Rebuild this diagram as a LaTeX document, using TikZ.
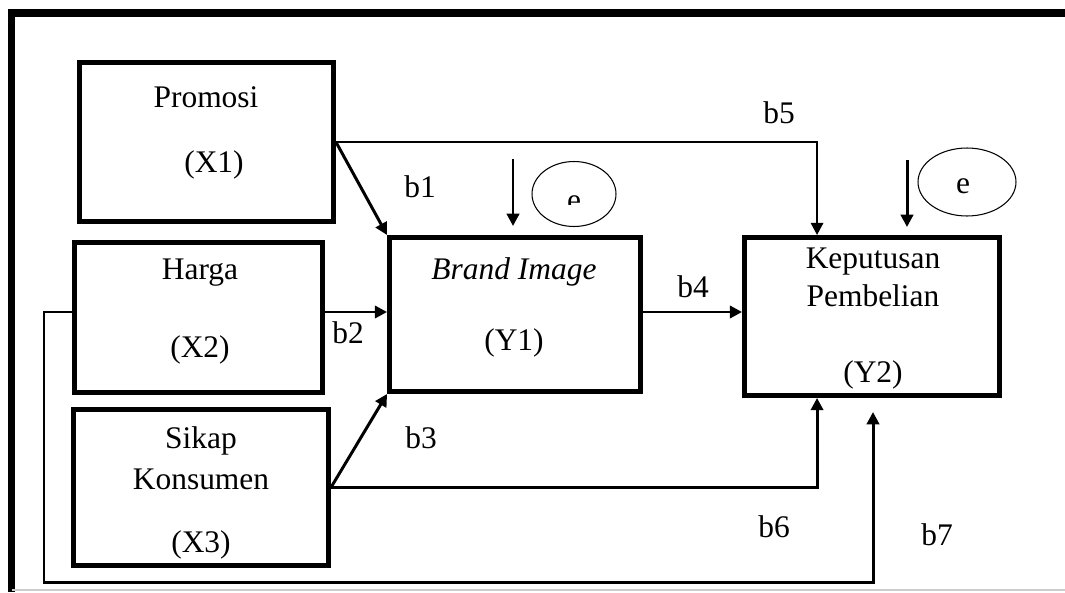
\documentclass[tikz,border=0pt]{standalone}
\usepackage{fontspec}
\setmainfont{Liberation Serif}
\usetikzlibrary{arrows.meta,shapes.geometric}

\tikzset{
  varbox/.style={draw,line width=2.8pt,inner sep=0pt},
  vartext/.style={font=\fontsize{17.9}{21}\selectfont},
  coef/.style={font=\fontsize{17.9}{21}\selectfont},
  path/.style={line width=1.7pt,-{Triangle[length=7pt,width=7pt]}},
  errell/.style={draw,ellipse,line width=0.6pt,inner sep=0pt},
}

\begin{document}
\begin{tikzpicture}[x=0.02cm,y=-0.02cm]
\path[use as bounding box] (0,0) rectangle (1065,592);
% frame
\draw[line width=4pt] (1065,13) -- (11.5,13) -- (11.5,592);
\draw[black!20,line width=0.6pt] (11.5,590) -- (1065,590);

% variables
\node[varbox,minimum width=5.08cm,minimum height=3.18cm] (pro) at (206.5,142) {};
\node[varbox,minimum width=4.96cm,minimum height=3.00cm] (har) at (198.5,317.5) {};
\node[varbox,minimum width=5.10cm,minimum height=3.12cm] (sik) at (201,487.5) {};
\node[varbox,minimum width=5.02cm,minimum height=3.08cm] (bra) at (515,314.5) {};
\node[varbox,minimum width=5.10cm,minimum height=3.16cm] (kep) at (872,316.5) {};

\node[vartext] (tpro) at (206,97) {Promosi};
\node[vartext] (tx1) at (214,165) {(X1)};
\node[vartext] (thar) at (200,273) {Harga};
\node[vartext] (tx2) at (200,350) {(X2)};
\node[vartext] (tsik) at (201,441) {Sikap};
\node[vartext] (tkon) at (201,479) {Konsumen};
\node[vartext] (tx3) at (201,545) {(X3)};
\node[vartext] (tbra) at (514,272) {\itshape Brand Image};
\node[vartext] (ty1) at (514,343) {(Y1)};
\node[vartext] (tkep) at (873,262) {Keputusan};
\node[vartext] (tpem) at (873,296) {Pembelian};
\node[vartext] (ty2) at (873,375) {(Y2)};

% error terms
\node[errell,minimum width=1.68cm,minimum height=1.30cm] (e1) at (574,194) {};
\begin{scope}
  \clip (530,160) rectangle (620,204);
  \node[coef,anchor=base] (te1) at (574,210) {e};
\end{scope}
\node[errell,minimum width=1.96cm,minimum height=1.36cm] (e2) at (967,182) {};
\node[coef] (te2) at (963,186) {e};
\coordinate (e1a) at (513,159);
\coordinate (e1b) at (513,226);
\coordinate (e2a) at (907,160);
\coordinate (e2b) at (907,227);
\draw[path] (e1a) -- (e1b);
\draw[path] (e2a) -- (e2b);

% paths
\draw[path] (pro.east) -- (bra.north west);
\draw[path,line width=1.4pt] (pro.east) -| ([xshift=1.5cm]kep.north west);
\draw[path] (har.east |- 0,312) -- (bra.west |- 0,312);
\draw[path] (bra.east |- 0,312) -- (kep.west |- 0,312);
\draw[path] (sik.east) -- (bra.south west);
\draw[path] (sik.east) -| ([xshift=1.5cm]kep.south west);
\coordinate (b7end) at (873,412);
\draw[path] (har.west |- 0,312) -- (44,312) -- (44,582) -| (b7end);

% coefficients
\node[coef] (b1) at (420,187) {b1};
\node[coef] (b2) at (348,333) {b2};
\node[coef] (b3) at (421,438) {b3};
\node[coef] (b4) at (693,287) {b4};
\node[coef] (b5) at (779,113) {b5};
\node[coef] (b6) at (774,527) {b6};
\node[coef] (b7) at (937,535) {b7};
\end{tikzpicture}
\end{document}
